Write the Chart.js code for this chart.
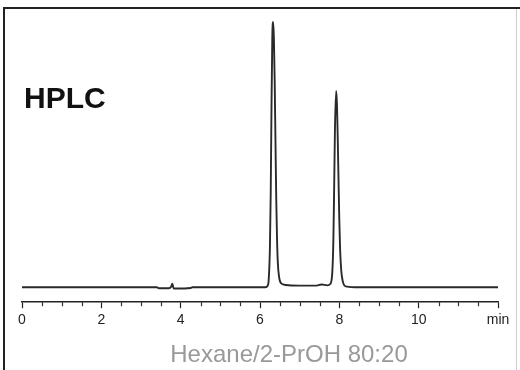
<!DOCTYPE html>
<html>
<head>
<meta charset="utf-8">
<script src="https://cdn.jsdelivr.net/npm/chart.js@4/dist/chart.umd.min.js"></script>
<style>
  html, body { margin: 0; padding: 0; background: #fff; }
  #wrap { width: 520px; height: 370px; position: relative; }
</style>
</head>
<body>
<div id="wrap"><canvas id="hplcChart" width="520" height="370"></canvas></div>
<script>
// retention time (min) and detector signal (peak 1 = 100)
const times = [0, 3.40, 3.45, 3.70, 3.76, 3.79, 3.82, 3.88, 4.25, 4.30,
    6.14, 6.19, 6.22, 6.25, 6.27, 6.29, 6.31, 6.33, 6.35, 6.37,
    6.39, 6.41, 6.43, 6.45, 6.48, 6.51, 6.56, 6.65, 7.00, 7.40,
    7.55, 7.70, 7.77, 7.82, 7.85, 7.87, 7.89, 7.92, 7.94, 7.96,
    7.98, 8.00, 8.02, 8.05, 8.09, 8.13, 8.20, 8.40, 12];
const signal = [0, 0, -0.4, -0.4, 0.2, 1.3, -0.4, -0.5, -0.3, 0,
    0, 0.5, 3, 15, 35, 68, 94, 100, 94, 78,
    55, 33, 18, 9, 4, 2, 1.2, 0.8, 0.6, 0.6,
    1.0, 0.7, 1.2, 5, 18, 38, 60, 74, 69, 56,
    40, 25, 14, 6, 2, 0.6, 0.2, 0, 0];
const majorTicks = [0, 2, 4, 6, 8, 10, 12];
const tickLabels = ['0', '2', '4', '6', '8', '10', 'min'];
const title = 'HPLC';
const subtitle = 'Hexane/2-PrOH 80:20';

const frameAndText = {
    id: 'frameAndText',
    afterDraw(chart) {
        const c = chart.ctx;
        const x = chart.scales.x;
        const bottom = chart.chartArea.bottom;
        c.save();
        // frame
        c.strokeStyle = '#222';
        c.lineWidth = 2;
        c.beginPath();
        c.moveTo(4, 370);
        c.lineTo(4, 8);
        c.lineTo(520, 8);
        c.stroke();
        c.strokeStyle = '#ccc';
        c.lineWidth = 1;
        c.beginPath();
        c.moveTo(516.5, 9);
        c.lineTo(516.5, 370);
        c.stroke();
        // minor ticks
        c.strokeStyle = '#333';
        c.lineWidth = 1.2;
        for (let v = 0.5; v < 12; v += 0.5) {
            if (majorTicks.includes(v)) continue;
            const px = Math.round(x.getPixelForValue(v)) + 0.5;
            c.beginPath();
            c.moveTo(px, bottom);
            c.lineTo(px, bottom + 4);
            c.stroke();
        }
        // texts
        c.fillStyle = '#111';
        c.font = 'bold 30px "Liberation Sans", Arial, sans-serif';
        c.textBaseline = 'alphabetic';
        c.textAlign = 'left';
        c.fillText(title, 24, 108);
        c.fillStyle = '#999';
        c.font = '24px "Liberation Sans", Arial, sans-serif';
        c.textAlign = 'center';
        c.fillText(subtitle, 289, 362);
        c.restore();
    }
};

const ctx = document.getElementById('hplcChart').getContext('2d');
const hplcChart = new Chart(ctx, {
    type: 'line',
    data: {
        datasets: [{
            data: times.map((t, i) => ({ x: t, y: signal[i] })),
            borderColor: '#2a2a2a',
            borderWidth: 1.9,
            pointRadius: 0,
            cubicInterpolationMode: 'monotone',
            fill: false
        }]
    },
    options: {
        responsive: false,
        animation: false,
        layout: { padding: { left: 22, right: 22, top: 10, bottom: 37 } },
        plugins: { legend: { display: false }, tooltip: { enabled: false } },
        scales: {
            x: {
                type: 'linear',
                min: 0,
                max: 12,
                border: { display: true, color: '#222', width: 1.5 },
                grid: {
                    drawOnChartArea: false,
                    tickLength: 6,
                    tickWidth: 1.2,
                    tickColor: c => majorTicks.includes(c.tick.value) ? '#222' : 'rgba(0,0,0,0)'
                },
                ticks: {
                    stepSize: 0.5,
                    autoSkip: false,
                    maxRotation: 0,
                    padding: 4,
                    color: '#222',
                    font: { family: '"Liberation Sans", Arial, sans-serif', size: 14 },
                    callback: v => {
                        const i = majorTicks.indexOf(v);
                        return i >= 0 ? tickLabels[i] : '';
                    }
                }
            },
            y: {
                display: false,
                min: -5.66,
                max: 104.5
            }
        }
    },
    plugins: [frameAndText]
});
</script>
</body>
</html>
